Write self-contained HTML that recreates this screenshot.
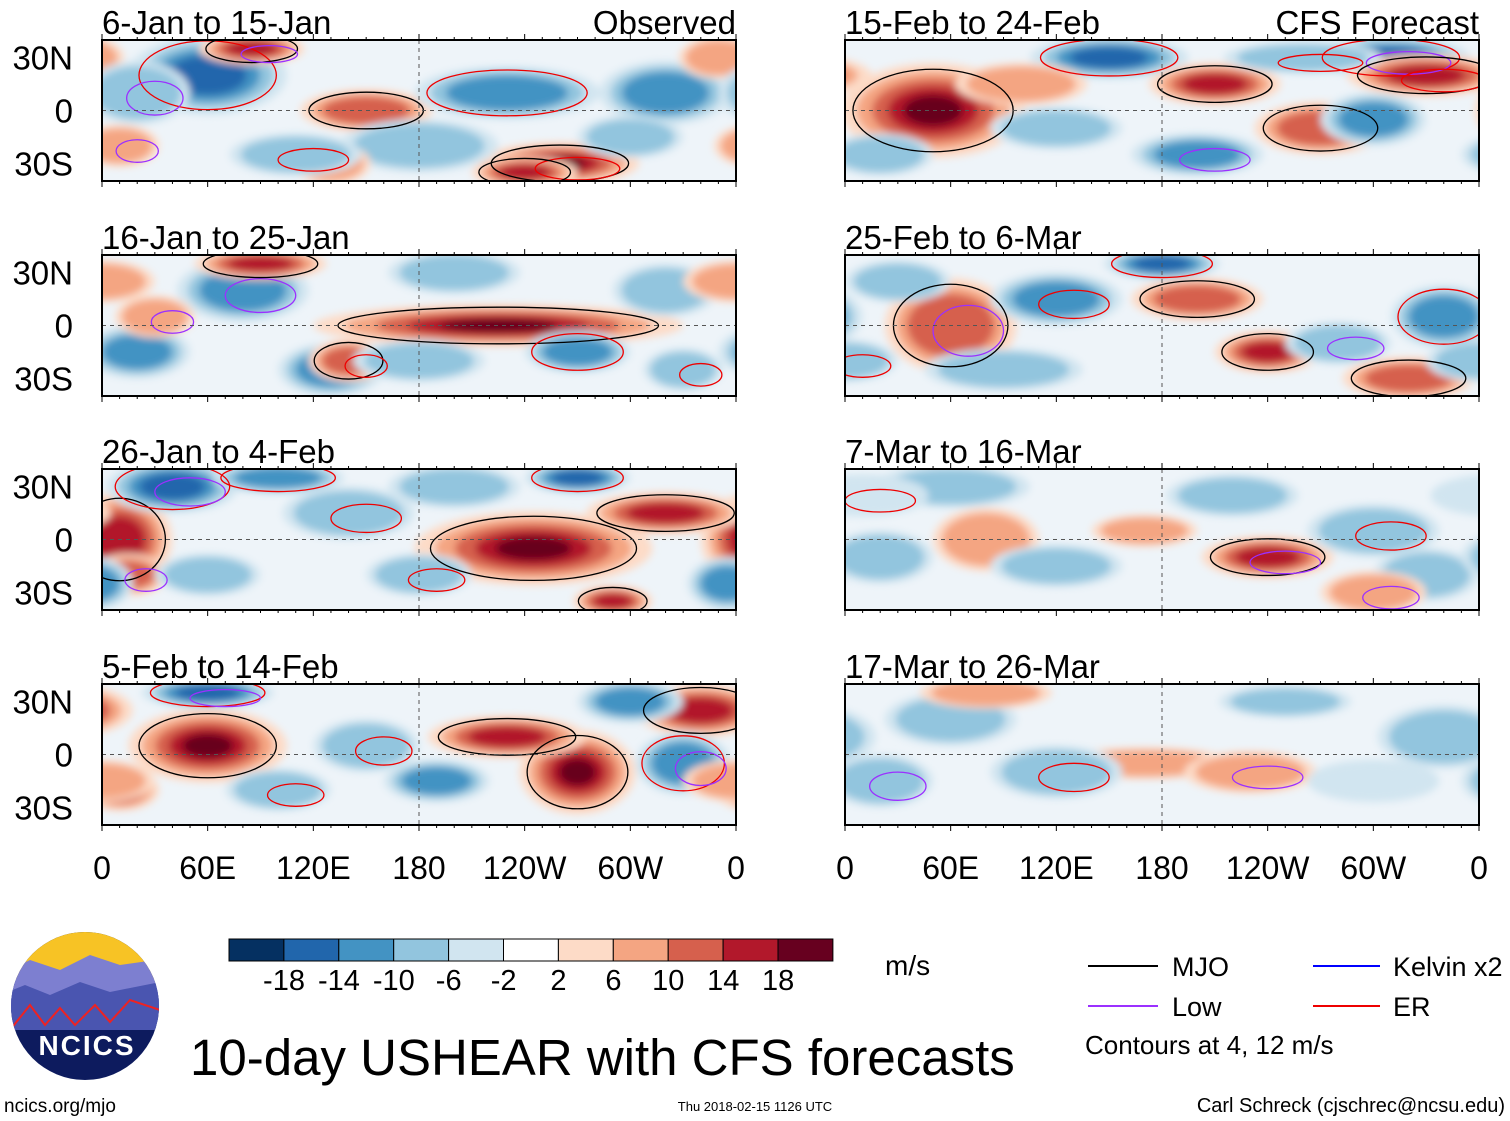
<!DOCTYPE html>
<html><head><meta charset="utf-8"><style>
body{margin:0;background:#fff;width:1510px;height:1121px;overflow:hidden;font-family:"Liberation Sans",sans-serif}
svg{position:absolute;left:0;top:0}
</style></head><body>
<svg id="chart" width="1510" height="1121">
<defs><filter id="bl" x="-30%" y="-30%" width="160%" height="160%"><feGaussianBlur stdDeviation="4"/></filter>
<clipPath id="cl0"><rect x="0" y="0" width="634" height="141"/></clipPath></defs>
</svg>
<script>
const NS="http://www.w3.org/2000/svg";
const svg=document.getElementById('chart');
const titles=["6-Jan to 15-Jan","16-Jan to 25-Jan","26-Jan to 4-Feb","5-Feb to 14-Feb","15-Feb to 24-Feb","25-Feb to 6-Mar","7-Mar to 16-Mar","17-Mar to 26-Mar"];
// Blob data per panel: longitude (deg E), latitude, shear value (m/s), lon half-width, lat half-width
const blobLon=[
[60,85,150,230,260,320,350,20,180,130,110,240,300,10],
[225,80,90,130,140,270,20,30,200,320,330,0,180],
[10,40,245,320,140,270,100,15,355,290,180,60,200],
[60,60,270,230,150,190,340,330,10,300,100,0],
[50,310,150,210,330,270,120,200,300,20,260,100],
[180,60,200,240,120,340,320,280,30,90,0],
[60,240,170,220,300,80,330,300,120,20,10],
[170,230,60,340,120,80,250,20,300]];
const blobLat=[
[20,35,0,10,-30,10,30,10,-20,-30,-25,-35,-15,-20],
[0,20,35,-25,-20,-15,-15,5,30,20,-25,25,-20],
[0,30,-5,15,15,35,35,-20,-25,-35,-20,-20,30],
[5,35,-10,10,5,-15,25,-5,-20,30,-20,-15],
[0,30,30,15,20,-10,-10,-25,-5,-25,30,15],
[35,0,15,-15,15,5,-30,-10,25,-25,-20],
[30,-10,5,25,5,0,-20,-30,-15,-10,25],
[-5,-10,20,10,-10,35,30,-15,-15]];
const blobVal=[
[-14,16,12,-12,18,-10,8,-8,-8,8,-6,14,-8,6],
[18,-10,14,-10,12,-12,-10,6,-8,-8,-6,6,-6],
[16,-14,20,16,-6,-14,-12,10,-10,14,-6,-6,-6],
[20,-14,20,16,-8,-10,14,-12,10,-10,-6,8],
[20,-16,-14,16,14,12,-8,-10,-10,-8,-6,6],
[-16,12,12,16,-10,-12,12,-8,-6,-6,-6],
[-8,14,8,-8,-8,6,-6,6,-6,-6,-4],
[8,6,-6,-8,-6,6,-6,-6,-4]];
const blobRx=[
[30,20,25,35,30,25,15,20,30,15,25,20,20,15],
[70,25,25,20,15,20,20,15,25,20,15,20,25],
[20,25,45,30,25,20,25,15,15,15,20,20,25],
[30,25,22,30,20,20,25,18,15,20,20,20],
[35,30,30,25,30,25,25,25,20,20,30,25],
[22,25,25,20,25,20,25,20,20,30,20],
[30,25,20,25,25,20,20,20,25,20,25],
[35,25,25,25,25,25,25,20,25]];
const blobRy=[
[15,6,8,10,8,12,8,12,10,8,8,6,8,8],
[8,12,6,10,8,8,10,8,8,10,8,8,8],
[18,10,14,8,10,6,6,8,10,6,8,8,8],
[14,6,16,8,10,8,10,12,8,8,8,8],
[18,8,8,8,8,10,8,8,10,8,6,8],
[6,18,8,8,10,12,8,8,8,8,8],
[8,8,6,8,10,12,10,8,8,10,8],
[6,8,10,12,10,6,6,10,8]];
const levels=[2,6,10,14,18];
const posCol=["#fddbc7","#f4a582","#d6604d","#b2182b","#67001f"];
const negCol=["#d1e5f0","#92c5de","#4393c3","#2166ac","#053061"];
const xTicks=["0","60E","120E","180","120W","60W","0"];
const yTicks=["30N","0","30S"];
const PW=634,PH=141,SC=1.5;
const colX=[102,845], rowY=[40,255,469,684];
function el(t,a,p){const e=document.createElementNS(NS,t);for(const k in a)e.setAttribute(k,a[k]);(p||svg).appendChild(e);return e;}
function xs(lon){return lon/360*PW;}
function ys(lat){return PH/2-lat*PH/80;}
for(let p=0;p<8;p++){
  const X=colX[p<4?0:1], Y=rowY[p%4];
  const g=el('g',{transform:`translate(${X},${Y})`});
  
  
  const inner=el('g',{'clip-path':'url(#cl0)'},g);
  el('rect',{x:0,y:0,width:PW,height:PH,fill:"#eef4f9"},inner);
  const bg=el('g',{filter:'url(#bl)'},inner);
  for(let i=0;i<blobLon[p].length;i++){
    const v=blobVal[p][i],a=Math.abs(v);
    for(let k=0;k<levels.length;k++){
      if(a<levels[k])break;
      const f=1-k*0.17;
      for(const sh of [-360,0,360]){
        const e=el('ellipse',{cx:xs(blobLon[p][i]+sh),cy:ys(blobLat[p][i]),rx:xs(blobRx[p][i])*SC*f,ry:blobRy[p][i]*PH/80*SC*f,fill:v>0?posCol[k]:negCol[k]},bg);
        
        
      }
    }
    if(a>=12){
      const c=el('ellipse',{cx:xs(blobLon[p][i]),cy:ys(blobLat[p][i]),rx:xs(blobRx[p][i])*1.3,ry:blobRy[p][i]*PH/80*1.3,fill:'none',stroke:v>0?'#000':'#e00',"stroke-width":1.3},inner);
      
      
    }
    if(i%3==1){
      const c=el('ellipse',{cx:xs(blobLon[p][i]+10),cy:ys(blobLat[p][i]-3),rx:xs(blobRx[p][i])*0.8,ry:blobRy[p][i]*PH/80*0.8,fill:'none',stroke:i%2?'#9b30ff':'#e00',"stroke-width":1.3},inner);
      
      
    }
  }
  el('line',{x1:0,x2:PW,y1:PH/2,y2:PH/2,stroke:'#555','stroke-dasharray':'4,4','stroke-width':1},g);
  el('line',{x1:PW/2,x2:PW/2,y1:0,y2:PH,stroke:'#555','stroke-dasharray':'4,4','stroke-width':1},g);
  el('rect',{x:0,y:0,width:PW,height:PH,fill:'none',stroke:'#000','stroke-width':2},g);
  for(let l=0;l<=360;l+=10){const h=l%60?3:6;
    el('line',{x1:xs(l),x2:xs(l),y1:0,y2:-h,stroke:'#000'},g);
    el('line',{x1:xs(l),x2:xs(l),y1:PH,y2:PH+h,stroke:'#000'},g);}
  const t=el('text',{x:0,y:-6,'font-size':33},g);t.textContent=titles[p];
  
  if(p%4==0){const r=el('text',{x:PW,y:-6,'font-size':33,'text-anchor':'end'},g);r.textContent=p==0?"Observed":"CFS Forecast";
    }
  if(p<4){yTicks.forEach((s,j)=>{const tt=el('text',{x:-29,y:ys(30-30*j)+12,'font-size':33,'text-anchor':'end'},g);tt.textContent=s;
    });}
  if(p%4==3){xTicks.forEach((s,j)=>{const tt=el('text',{x:xs(j*60),y:PH+54,'font-size':32,'text-anchor':'middle'},g);tt.textContent=s;
    });}
}
const cbCols=["#053061","#2166ac","#4393c3","#92c5de","#d1e5f0","#ffffff","#fddbc7","#f4a582","#d6604d","#b2182b","#67001f"];
const cbLabels=["-18","-14","-10","-6","-2","2","6","10","14","18"];
cbCols.forEach((c,i)=>{const r=el('rect',{x:229+i*54.9,y:939,width:54.9,height:22,fill:c,stroke:'#000','stroke-width':1});
  });
cbLabels.forEach((s,i)=>{const t=el('text',{x:284+i*54.9,y:990,'font-size':29,'text-anchor':'middle'});t.textContent=s;
  });
</script>
<svg width="1510" height="1121" style="pointer-events:none">
<text x="885" y="975" font-size="28">m/s</text>
<g>
<line x1="1088" x2="1158" y1="966" y2="966" stroke="#000" stroke-width="2"/>
<text x="1172" y="976" font-size="27">MJO</text>
<line x1="1088" x2="1158" y1="1006" y2="1006" stroke="#9b30ff" stroke-width="2"/>
<text x="1172" y="1016" font-size="27">Low</text>
<line x1="1313" x2="1380" y1="966" y2="966" stroke="#00f" stroke-width="2"/>
<text x="1393" y="976" font-size="27">Kelvin x2</text>
<line x1="1313" x2="1380" y1="1006" y2="1006" stroke="#e00" stroke-width="2"/>
<text x="1393" y="1016" font-size="27">ER</text>
<text x="1085" y="1054" font-size="26">Contours at 4, 12 m/s</text>
</g>
<g>
<clipPath id="lc"><circle cx="85" cy="1006" r="74"/></clipPath>
<g clip-path="url(#lc)">
<rect x="0" y="930" width="170" height="160" fill="#0d1b5e"/>
<rect x="0" y="930" width="170" height="50" fill="#f7c325"/>
<path d="M0 975 L30 960 L60 970 L90 955 L120 965 L170 958 L170 1010 L0 1010Z" fill="#7d7fd0"/>
<path d="M0 995 L25 985 L50 995 L80 982 L110 992 L170 980 L170 1030 L0 1030Z" fill="#4a55b0"/>
<path d="M10 1030 L30 1005 L45 1025 L60 1008 L75 1025 L95 1005 L110 1022 L130 1000 L160 1010" fill="none" stroke="#e22" stroke-width="2"/>
</g>
<text x="87" y="1055" font-size="28" font-weight="bold" fill="#fff" text-anchor="middle" letter-spacing="2">NCICS</text>
</g>
<text x="190" y="1075" font-size="51">10-day USHEAR with CFS forecasts</text>
<text x="4" y="1112" font-size="19">ncics.org/mjo</text>
<text x="755" y="1111" font-size="13" text-anchor="middle">Thu 2018-02-15 1126 UTC</text>
<text x="1505" y="1112" font-size="20" text-anchor="end">Carl Schreck (cjschrec@ncsu.edu)</text>
</svg>
</body></html>
